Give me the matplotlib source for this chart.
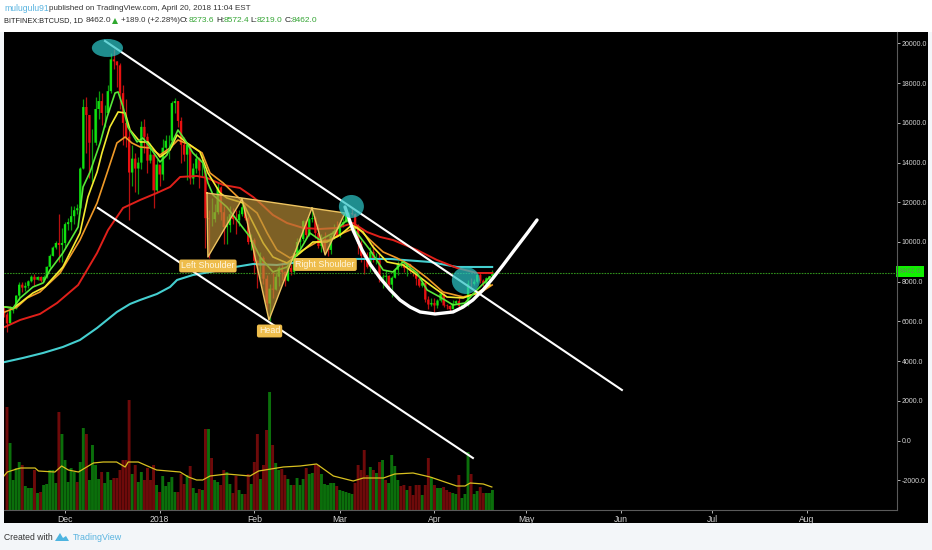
import numpy as np
import matplotlib
matplotlib.use('Agg')
import matplotlib.pyplot as plt
from matplotlib.patches import Ellipse, Polygon, Rectangle

# days are counted from 1 Dec 2017, candles run 11 Nov 2017 - 20 Apr 2018
first_open = 6500
close = [6350, 5900, 6550, 6640, 7300, 7850, 7700, 7790, 8020, 8250, 8100, 8240, 8050, 8240, 8750, 9300, 9720, 9950, 9850, 9950,
         10900, 11000, 11300, 11600, 11700, 13700, 16800, 16400, 15000, 15000, 16700, 17100, 16500, 16500, 17600, 19200, 19100, 18900, 17500, 16000, 15300, 13500, 14200, 13700, 14000, 15800, 15300, 14100, 14400, 12600, 13900,
         13400, 14750, 15100, 15100, 17000, 17100, 16100, 14900, 14400, 14900, 13200, 13700, 14200, 13600, 13600, 11200, 11150, 11150, 11500, 12750, 11500, 10750, 10850, 11400, 11150, 11100, 11400, 11750, 11200, 10000, 10100,
         9050, 8800, 9200, 8150, 6900, 7650, 7600, 8250, 8700, 8500, 8050, 8700, 8500, 9450, 10000, 10150, 11050, 10350, 11150, 11200, 10450, 9800, 10150, 9650, 9600, 10300, 10550, 10300,
         10900, 11000, 11450, 11450, 11400, 10700, 9900, 9300, 9250, 8750, 9500, 9100, 9150, 8200, 8250, 8300, 7850, 8200, 8600, 8900, 8900, 8700, 8900, 8550, 8450, 8150, 7800, 7950, 7100, 6850, 6930,
         6800, 7050, 7400, 6800, 6780, 6620, 6900, 7020, 6770, 6820, 6930, 7900, 7890, 8000, 8350, 8050, 7900, 8170, 8273, 8462]
high = [6800, 6480, 6800, 6730, 7340, 7990, 7990, 7960, 8100, 8340, 8370, 8300, 8300, 8350, 8800, 9400, 9780, 10050, 11430, 10700,
        11000, 11200, 11800, 11800, 11900, 13800, 17200, 17300, 16400, 15700, 17300, 17600, 17500, 16900, 17900, 19500, 19700, 19100, 19000, 17900, 17200, 15700, 14900, 14500, 14300, 16100, 16200, 15500, 15000, 14500, 14200,
        13900, 15200, 15400, 15400, 17100, 17250, 17100, 16300, 15300, 14950, 14900, 14000, 14500, 14300, 14400, 13600, 11600, 12200, 11900, 13000, 12800, 11800, 11300, 11800, 11700, 11600, 11600, 12100, 11900, 11300, 10400,
        10200, 9100, 9500, 9300, 8350, 7900, 8500, 8500, 8800, 9000, 8550, 8950, 8900, 9500, 10200, 10300, 11100, 11050, 11250, 11750, 11300, 10900, 10400, 10500, 9800, 10400, 10900, 11050,
        11000, 11200, 11550, 11500, 11700, 11450, 10900, 10100, 9400, 9500, 9750, 9900, 9450, 9400, 8400, 8600, 8350, 8300, 8700, 9050, 9150, 9100, 8950, 8900, 8650, 8500, 8200, 8100, 8000, 7300, 7200,
        7200, 7120, 7500, 7420, 6900, 6850, 7070, 7100, 7180, 6880, 6980, 8100, 8200, 8150, 8400, 8500, 8150, 8220, 8300, 8572]
low = [6200, 5480, 5900, 6400, 6640, 7100, 7500, 7550, 7700, 8000, 7800, 8080, 8000, 8000, 8200, 8700, 9300, 9660, 9000, 9000,
       9700, 10600, 10600, 10900, 11400, 11700, 13700, 14500, 13200, 13000, 14900, 16200, 15900, 15800, 16500, 17500, 18700, 17800, 16700, 14900, 14800, 11100, 12800, 12500, 12400, 13700, 14500, 13500, 14000, 11700, 12500,
       12800, 13100, 14600, 14200, 14800, 16500, 15800, 14000, 14100, 13100, 12900, 12900, 13500, 12700, 13300, 9700, 9200, 10800, 11000, 11400, 11100, 9900, 9900, 10500, 10900, 10400, 10800, 11300, 11100, 9900, 9600,
       8400, 7700, 8200, 7900, 6600, 6000, 7200, 7600, 7800, 8100, 7800, 8050, 8350, 8400, 9300, 9700, 10050, 10200, 10300, 11000, 10200, 9700, 9500, 9400, 9300, 9400, 10150, 10250,
       10250, 10750, 11000, 11050, 11350, 10600, 9400, 9000, 8400, 8700, 8500, 9000, 8900, 8000, 7700, 7900, 7750, 7250, 8200, 8350, 8750, 8500, 8300, 8450, 8300, 7850, 7750, 7750, 7000, 6600, 6800,
       6430, 6700, 7000, 6720, 6600, 6500, 6620, 6880, 6650, 6650, 6810, 6760, 7740, 7830, 7950, 7950, 7800, 7850, 8100, 8219]

volume = [103, 67, 30, 42, 48, 45, 24, 22, 22, 40, 17, 18, 25, 26, 40, 40, 27, 98, 76, 50, 28, 42, 38, 28, 48, 82, 76, 30, 65, 45, 31, 38, 27, 38, 30, 32, 32, 40, 50, 50, 110,
          36, 45, 28, 38, 30, 42, 30, 45, 25, 18, 34, 24, 28, 33, 18, 18, 36, 26, 35, 44, 22, 17, 21, 20, 81, 81, 52, 30, 28, 25, 40, 38, 26, 17, 34, 20, 16, 16, 36, 26, 48, 76, 31, 45, 80, 118, 65, 47, 40, 41, 35, 31, 25, 25, 32, 25, 31, 42, 36, 37, 45, 45, 36, 26, 25, 27, 27, 24, 20, 19, 18, 17, 16, 27,
          45, 40, 60, 35, 43, 40, 37, 48, 50, 30, 27, 55, 44, 30, 24, 25, 20, 24, 15, 25, 25, 15, 25, 52, 33, 25, 22, 22, 23, 20, 18, 17, 16, 35, 12, 16, 58, 36, 16, 19, 23, 17, 17, 17, 20]
volume_dir = ('r g g g g r g g g r g r g g g g g r g g g g g r g g r g g g g r g g g r r r r r r '
              'g r g g r r r r g r g g g g g r r r g r g g r g r g r g g r r g g r r g g r r g r r g r r g r g g r r g g r g g g r g g r r g g g g g r g g g g g r '
              'r r r r g r g r g r g g g g r r g r r r r g r r g r g g r r r g g r g g g r g g r r g g g').split()

vol_ma_day = [-20, -18.9, -15.8, -14.5, -9.8, -8.7, -3.3, -1.1, 1.1, 4.4, 9.3, 12.5, 16.9, 19.7, 20.7, 24, 30, 37.7, 40.4, 43.1, 45.1, 47.5, 53, 60.6, 63.4, 71.5, 77, 82.4, 87.9, 94.4, 97.7, 104.3, 108, 114, 119.6, 128.3, 131, 132.7, 137, 139.8]
vol_ma = [34, 38, 41, 42, 42, 39, 38, 44, 40, 38, 47, 48, 48, 43, 48, 48, 40, 38, 33, 30, 30, 34, 36, 34, 39, 43, 44, 46, 34, 29, 32, 32, 36, 37, 33, 24, 24, 27, 26, 23]

green_day = [-19.7, -17, -14.7, -10.5, -7.2, -4.9, -0.7, 4.3, 5.9, 8.2, 11.5, 13.8, 16.4, 17.4, 19, 20.6, 23.6, 25.5, 27.8, 31.1, 33.4, 34.4, 37, 39.3, 41.9, 45.2, 46.8, 48.5, 53, 60.6, 63.9, 68.1, 72.7, 77, 80.2, 83.5, 87.8, 92.4, 95.6, 99.9, 104.2, 107.4, 110.7, 115.3, 118.6, 122.8, 127.1, 131, 134.9, 139.2]
green_ma = [6726, 6676, 7180, 7734, 7935, 8590, 9447, 10757, 12772, 13528, 14989, 16299, 17508, 17558, 16802, 15795, 15039, 15241, 14787, 14031, 14384, 14787, 15643, 15140, 14485, 13981, 12974, 12369, 11764, 10253, 9245, 8489, 8741, 9598, 10454, 10102, 10454, 11109, 10454, 9598, 8590, 8489, 8993, 8439, 7583, 7230, 6827, 6928, 7583, 8238]
yellow_day = [-19.7, -17, -14.7, -10.5, -6.6, -0.7, 4.9, 7.5, 10.5, 12.1, 14.7, 17.4, 19.7, 21.3, 24.6, 27.2, 31.1, 34.4, 36.7, 40, 44.2, 46.8, 50.8, 53, 58.3, 61.6, 64.9, 68.1, 72.7, 77, 81.2, 85.8, 90.1, 94, 97.6, 100.9, 105.5, 110.7, 115.3, 119.6, 125.1, 130.4, 134.9, 139.2]
yellow_ma = [6726, 6676, 6928, 7432, 7734, 8741, 10454, 12268, 13528, 14485, 15795, 16551, 16500, 15643, 15039, 15039, 14283, 14636, 15392, 14989, 14535, 13477, 12470, 12218, 11966, 10958, 9950, 9245, 8943, 9447, 10001, 10001, 10353, 10857, 10505, 9749, 8993, 8842, 8338, 7835, 7230, 7180, 7432, 7835]
orange_day = [-19.7, -15.7, -12.4, -8.2, -1.6, 4.9, 10.5, 14.1, 17, 19.7, 21.9, 24.6, 27.8, 31.1, 34.4, 37, 40.9, 44.9, 47.5, 51.8, 58.3, 62.9, 66.2, 69.4, 73.7, 78, 82.5, 86.8, 91.1, 95.6, 99.9, 104.2, 108.7, 113, 118.6, 123.8, 130.4, 135.9, 139.9]
orange_ma = [6475, 6726, 7180, 7482, 8439, 10102, 11966, 13629, 14989, 15291, 14989, 14787, 14737, 14384, 14737, 15140, 14888, 14485, 13477, 12973, 12016, 11462, 10454, 9598, 9195, 9598, 10001, 10102, 10454, 10757, 10102, 9497, 9195, 8842, 8187, 7482, 7230, 7432, 7835]
red_day = [-19.7, -14.7, -8.2, -2.6, 4.3, 10.5, 14.1, 19, 24.6, 30.1, 34.4, 37.7, 43.2, 46.5, 51.8, 57.3, 61.6, 63.9, 68.1, 72.7, 78, 83.5, 89.1, 94.3, 98.9, 103.2, 107.4, 115.3, 121.8, 128.4, 134.9, 139.9]
red_ma = [5719, 6072, 6374, 6928, 7835, 9447, 10606, 11714, 12117, 12470, 12772, 13276, 13326, 13226, 12873, 12722, 12268, 11966, 11361, 10958, 10706, 10656, 10706, 10958, 10505, 10253, 10102, 9598, 9094, 8691, 8439, 8439]
cyan_day = [-19.7, -13.8, -7.2, -0.7, 4.9, 10.5, 17, 21.3, 24.6, 30.1, 34.4, 36.7, 41.9, 47.5, 55.7, 61.6, 69.4, 77, 86.8, 95.6, 106.5, 119.6, 128.4, 139.9]
cyan_ma = [3955, 4157, 4409, 4711, 5064, 5669, 6475, 6878, 7079, 7381, 7734, 8087, 8338, 8489, 8741, 8892, 8842, 8993, 9094, 9145, 9145, 8993, 8741, 8741]

# drawings on the chart
trend1_day = [13.1, 182.4]
trend1_price = [20127, 2545]
trend2_day = [10.8, 133.6]
trend2_price = [11714, -881]
arc_day = [91.7, 94.3, 97.3, 99.9, 103.2, 106.5, 109.7, 113, 116.3, 121.2, 127.1, 130.4, 133.6, 136.9, 140.2, 143.5, 146.7, 151.7, 154.6]
arc_price = [11764, 10606, 9598, 8893, 8187, 7583, 7079, 6726, 6475, 6374, 6475, 6726, 7079, 7583, 8187, 8842, 9497, 10505, 11109]
pattern_day = [46.5, 46.8, 58, 66.8, 80.9, 85.2, 91.7]
pattern_price = [12470, 9245, 12168, 6072, 11714, 9346, 11462]

price_ticks = [20000, 18000, 16000, 14000, 12000, 10000, 8000, 6000, 4000, 2000, 0, -2000]
date_ticks = [0, 31, 62, 90, 121, 151, 182, 212, 243]
date_labels = ['Dec', '2018', 'Feb', 'Mar', 'Apr', 'May', 'Jun', 'Jul', 'Aug']
last_price = 8462.0

W, H = 932, 550
XLIM = (-19.98, 272.5)
plt.rcParams['font.family'] = ['Liberation Sans', 'DejaVu Sans']

fig = plt.figure(figsize=(W / 100, H / 100), dpi=100, facecolor='#f3f6f9')
fig.add_artist(Rectangle((0, 1 - 32 / H), 1, 32 / H, transform=fig.transFigure, fc='white', ec='none'))
fig.add_artist(Rectangle((4 / W, 1 - 523 / H), 924 / W, 491 / H, transform=fig.transFigure, fc='black', ec='none'))

pos = [4 / W, 1 - 510 / H, 893 / W, 478 / H]
ax_vol = fig.add_axes(pos, facecolor='none', zorder=1)
ax = fig.add_axes(pos, facecolor='none', zorder=2)

# volume pane
vol_days = np.arange(-19, -19 + len(volume))
vol_cols = ['#0b6f0b' if d == 'g' else '#6e0a0a' for d in volume_dir]
ax_vol.bar(vol_days, volume, width=0.95, color=vol_cols, snap=False)
ax_vol.plot(vol_ma_day, vol_ma, color='#d8c020', lw=0.9)
ax_vol.set_xlim(*XLIM)
ax_vol.set_ylim(0, 478)
ax_vol.axis('off')

# candles
days = np.arange(-20, -20 + len(close))
close = np.array(close)
open_ = np.r_[first_open, close[:-1]]
up = close >= open_
wick_cols = ['#0c9c0c' if u else '#b81010' for u in up]
body_cols = ['#10e010' if u else '#e81010' for u in up]
ax.vlines(days, low, high, colors=wick_cols, lw=0.9, zorder=2)
ax.bar(days, np.abs(close - open_), bottom=np.minimum(close, open_), width=0.75, color=body_cols, zorder=3, snap=False)

# moving averages
ax.plot(cyan_day, cyan_ma, color='#45cfd0', lw=1.5, zorder=4)
ax.plot(red_day, red_ma, color='#e0201a', lw=1.4, zorder=4)
ax.plot(orange_day, orange_ma, color='#f09a28', lw=1.2, zorder=4)
ax.plot(yellow_day, yellow_ma, color='#f4ea30', lw=1.2, zorder=4)
ax.plot(green_day, green_ma, color='#58e838', lw=1.2, zorder=4)

ax.axhline(last_price, color='#2f8f1c', lw=0.8, ls=(0, (1.5, 1)), zorder=2)

# head and shoulders pattern
ax.add_patch(Polygon(list(zip(pattern_day, pattern_price)), closed=True, fc='#b98f38', ec='none', alpha=0.68, zorder=5))
ax.plot(pattern_day + pattern_day[:1], pattern_price + pattern_price[:1], color='#eec460', lw=1.0, zorder=5)

# channel lines, arc and circles
ax.plot(trend1_day, trend1_price, color='white', lw=1.5, zorder=6)
ax.plot(trend2_day, trend2_price, color='white', lw=1.5, zorder=6)
ax.plot(arc_day, arc_price, color='white', lw=2.4, zorder=6, solid_capstyle='round')
for c_day, c_price, w_day, h_price in [(13.9, 19775, 10.2, 907), (93.8, 11790, 8.2, 1159), (131.3, 8062, 9.2, 1360)]:
    ax.add_patch(Ellipse((c_day, c_price), w_day, h_price, fc='#2cc4c6', ec='none', alpha=0.72, zorder=7))

for txt, d, p in [('Left Shoulder', 46.8, 8792), ('Head', 67, 5517), ('Right Shoulder', 85.2, 8868)]:
    ax.text(d, p, txt, color='#fff6df', fontsize=6.4, ha='center', va='center', zorder=8,
            bbox=dict(boxstyle='round,pad=0.22', fc='#eebd4c', ec='none'))

ax.set_xlim(*XLIM)
ax.set_ylim(-3501, 20579)
for s in ['left', 'top']:
    ax.spines[s].set_visible(False)
for s in ['right', 'bottom']:
    ax.spines[s].set_color('#5a5a5a')
ax.yaxis.tick_right()
ax.set_yticks(price_ticks)
ax.set_yticklabels(['%.1f' % v for v in price_ticks])
ax.set_xticks(date_ticks)
ax.set_xticklabels(date_labels)
ax.tick_params(axis='y', colors='#d4d4d4', labelsize=5.0, length=2, width=0.6, pad=1.5)
ax.tick_params(axis='x', colors='#d4d4d4', labelsize=6.2, length=2, width=0.6, pad=1.5)

# last price tag
fig.add_artist(Rectangle((896 / W, 1 - 277 / H), 28 / W, 11 / H, transform=fig.transFigure, fc='#10f000', ec='none'))
fig.text(910 / W, 1 - 271.7 / H, '%.1f' % last_price, color='#5f8a58', fontsize=5.0, ha='center', va='center')


def label(x, y, txt, col='#333333', size=5.7, weight='normal'):
    fig.text(x / W, 1 - y / H, txt, color=col, fontsize=size, ha='left', va='center', fontweight=weight)


label(4, 8.5, 'mulugulu91', '#5ab4e0', size=6.2)
label(49, 8.5, 'published on TradingView.com, April 20, 2018 11:04 EST', size=5.8)
label(4, 21, 'BITFINEX:BTCUSD, 1D', '#222222', size=5.3)
label(86, 21, '8462.0', size=6.0)
fig.add_artist(Polygon([(112 / W, 1 - 24 / H), (118 / W, 1 - 24 / H), (115 / W, 1 - 18 / H)], closed=True,
                       transform=fig.transFigure, fc='#2fa82f', ec='none'))
label(121, 21, '+189.0 (+2.28%)')
for x, txt in [(180, 'O:'), (216, 'H:'), (250, 'L:'), (285, 'C:')]:
    label(x, 21, txt, '#222222', size=6.0)
for x, txt in [(189, '8273.6'), (224, '8572.4'), (257, '8219.0'), (292, '8462.0')]:
    label(x, 21, txt, '#35a535', size=6.0)

label(4, 537, 'Created with', size=6.2)
label(73, 537, 'TradingView', '#5ab4e0', size=6.4)
fig.add_artist(Polygon([(55 / W, 1 - 541 / H), (60 / W, 1 - 533 / H), (63 / W, 1 - 538 / H), (66 / W, 1 - 536 / H), (69 / W, 1 - 541 / H)],
                       closed=True, transform=fig.transFigure, fc='#4db4e0', ec='none'))

fig.savefig('out.png', dpi=100, facecolor=fig.get_facecolor())
